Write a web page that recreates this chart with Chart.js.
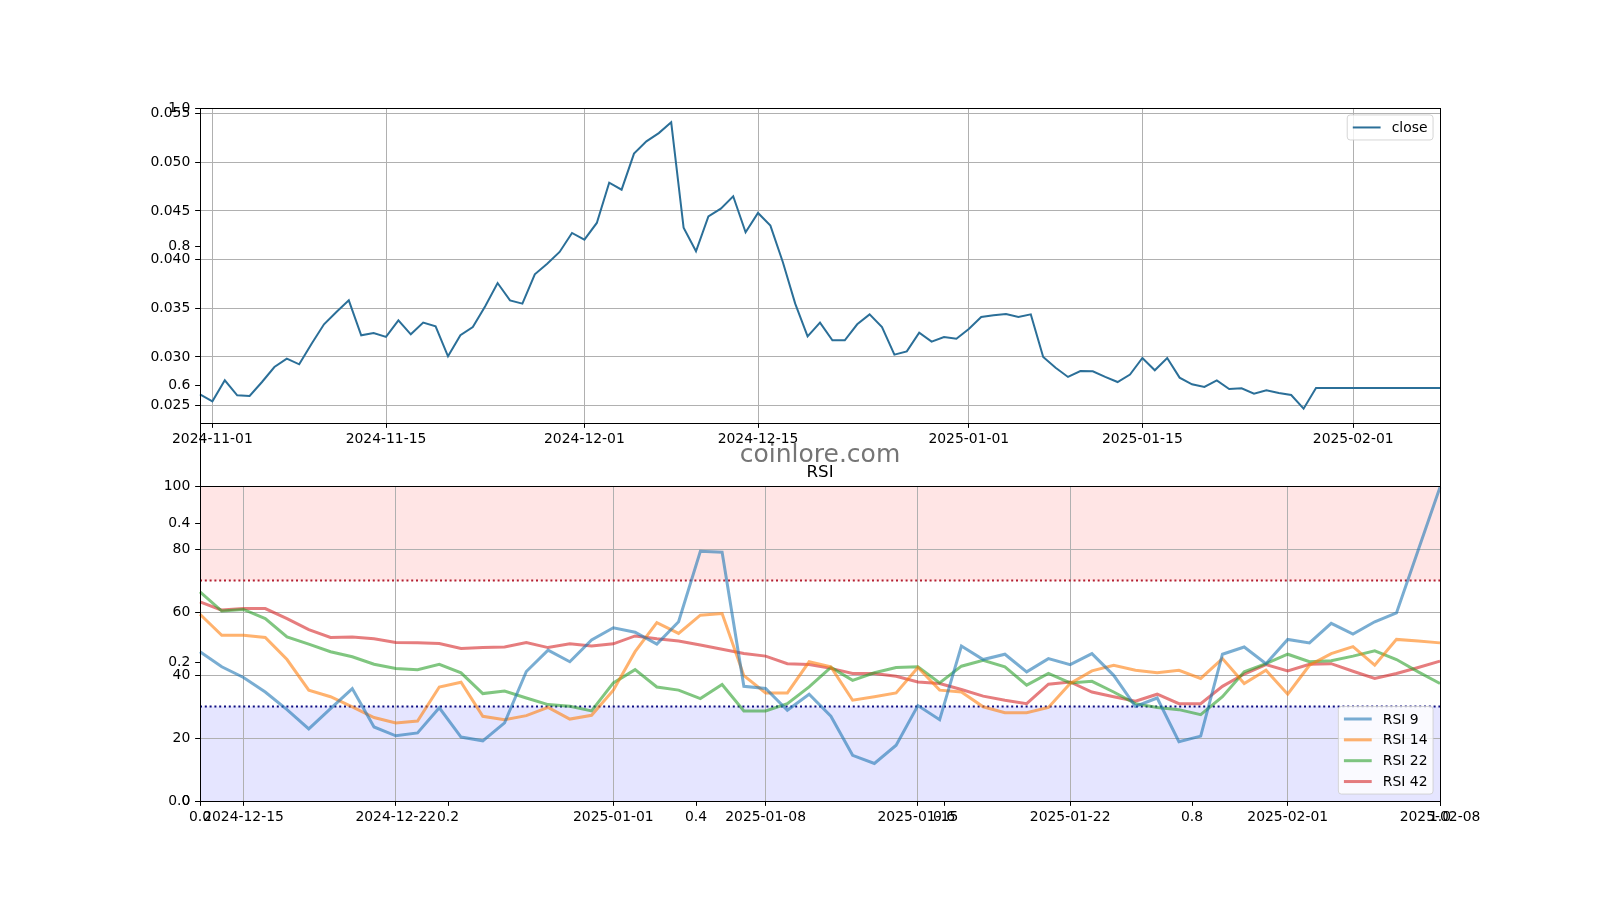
<!DOCTYPE html>
<html>
<head>
<meta charset="utf-8">
<script src="https://cdn.jsdelivr.net/npm/chart.js@4.4.1/dist/chart.umd.min.js"></script>
<style>
html,body{margin:0;padding:0;background:#fff;}
#wrap{position:relative;width:1600px;height:900px;overflow:hidden;background:#fff;}
#wrap canvas{position:absolute;left:0;top:0;}
</style>
</head>
<body>
<div id="wrap">
<canvas id="cOverlay" width="1600" height="900"></canvas>
<canvas id="cPrice" width="1600" height="900"></canvas>
<canvas id="cRsi" width="1600" height="900"></canvas>
</div>
<script>
// ---------------- DATA ----------------
const closeStart = '2024-10-31';
const closeValues = [
  0.02616, 0.02545, 0.02760, 0.02606, 0.02600, 0.02743, 0.02897, 0.02983, 0.02925, 0.03137,
  0.03336, 0.03462, 0.03582, 0.03223, 0.03247, 0.03206, 0.03377, 0.03233, 0.03353, 0.03315,
  0.03007, 0.03223, 0.03308, 0.03521, 0.03760, 0.03582, 0.03548, 0.03849, 0.03959, 0.04079,
  0.04274, 0.04206, 0.04377, 0.04791, 0.04719, 0.05089, 0.05216, 0.05300, 0.05411, 0.04329,
  0.04086, 0.04445, 0.04524, 0.04651, 0.04281, 0.04480, 0.04350, 0.03976, 0.03548, 0.03212,
  0.03353, 0.03171, 0.03171, 0.03336, 0.03438, 0.03308, 0.03024, 0.03058, 0.03250, 0.03158,
  0.03206, 0.03188, 0.03288, 0.03411, 0.03428, 0.03442, 0.03411, 0.03438, 0.03000, 0.02890,
  0.02795, 0.02856, 0.02853, 0.02795, 0.02743, 0.02819, 0.02990, 0.02863, 0.02990, 0.02788,
  0.02719, 0.02692, 0.02760, 0.02671, 0.02678, 0.02623, 0.02658, 0.02630, 0.02610, 0.02469,
  0.02682, 0.02682, 0.02682, 0.02682, 0.02682, 0.02682, 0.02682, 0.02682, 0.02682, 0.02682,
  0.02682
];
const closeTickLabels = ['2024-11-01','2024-11-15','2024-12-01','2024-12-15','2025-01-01','2025-01-15','2025-02-01'];
const priceTicks = [0.025, 0.030, 0.035, 0.040, 0.045, 0.050, 0.055];

const rsiStart = '2024-12-13';
const rsi9 = [
  47.4, 42.6, 39.2, 34.6, 29.0, 22.9, 29.3, 35.7, 23.5, 20.7,
  21.6, 29.6, 20.3, 19.1, 24.8, 41.1, 47.9, 44.2, 51.1, 55.0,
  53.6, 49.8, 56.9, 79.3, 79.0, 36.4, 35.7, 28.8, 33.9, 26.9,
  14.5, 11.9, 17.7, 30.3, 25.8, 49.2, 44.9, 46.6, 41.0, 45.2,
  43.3, 46.8, 39.9, 30.0, 32.7, 18.8, 20.6, 46.6, 48.9, 43.6,
  51.3, 50.2, 56.4, 53.0, 56.9, 59.7, 79.7, 99.6
];
const rsi14 = [
  59.3, 52.6, 52.6, 51.9, 44.9, 35.2, 33.1, 29.9, 26.5, 24.8,
  25.4, 36.2, 37.7, 26.9, 25.8, 27.1, 29.7, 26.0, 27.2, 35.2,
  47.4, 56.6, 53.2, 59.0, 59.5, 39.8, 34.3, 34.3, 44.2, 42.6,
  32.0, 33.1, 34.3, 42.4, 35.2, 34.6, 29.9, 28.0, 28.0, 29.7,
  37.3, 41.3, 43.1, 41.5, 40.7, 41.5, 38.9, 45.2, 37.3, 41.5,
  33.9, 43.1, 46.8, 49.0, 43.1, 51.3, 50.8, 50.2
];
const rsi22 = [
  66.4, 60.3, 60.8, 57.9, 52.1, 49.8, 47.4, 45.8, 43.4, 42.1,
  41.7, 43.4, 40.7, 34.1, 34.9, 32.7, 30.6, 30.1, 28.6, 37.5,
  41.7, 36.2, 35.2, 32.5, 37.0, 28.6, 28.6, 30.9, 36.2, 42.4,
  38.3, 40.7, 42.4, 42.6, 37.5, 42.8, 44.7, 42.6, 36.8, 40.5,
  37.5, 38.0, 34.6, 30.9, 29.7, 29.0, 27.4, 33.1, 41.0, 43.6,
  46.6, 44.2, 44.5, 46.0, 47.7, 44.9, 41.0, 37.3
];
const rsi42 = [
  63.2, 60.6, 61.1, 61.1, 57.9, 54.4, 51.9, 52.1, 51.5, 50.3,
  50.2, 50.0, 48.4, 48.7, 48.9, 50.3, 48.7, 49.9, 49.2, 49.9,
  52.4, 51.5, 50.8, 49.5, 48.2, 46.8, 46.0, 43.6, 43.3, 42.1,
  40.5, 40.5, 39.6, 37.8, 37.3, 35.4, 33.3, 32.0, 30.9, 37.1,
  37.8, 34.6, 33.1, 31.7, 33.9, 30.9, 30.9, 36.4, 40.3, 43.3,
  41.3, 43.4, 43.6, 41.2, 38.9, 40.5, 42.4, 44.4
];
const rsiTickLabels = ['2024-12-15','2024-12-22','2025-01-01','2025-01-08','2025-01-15','2025-01-22','2025-02-01','2025-02-08'];
const rsiTicks = [0, 20, 40, 60, 80, 100];
const overbought = 70;
const oversold = 30;

const overlayTicks = [0.0, 0.2, 0.4, 0.6, 0.8, 1.0];
const watermarkText = 'coinlore.com';
const rsiTitle = 'RSI';

// ---------------- LAYOUT / STYLE ----------------
const FIG_W = 1600, FIG_H = 900;
const AX_LEFT = 200, AX_RIGHT = 1440;
const PRICE_TOP = 108, PRICE_BOTTOM = 423;
const RSI_TOP = 486, RSI_BOTTOM = 801;
const FS = 13.9;           // 10pt @100dpi
const TL = 4.86;           // tick length 3.5pt
const XAXIS_H = 30;
const FONT = 'DejaVu Sans';

Chart.defaults.font.family = FONT;
Chart.defaults.font.size = FS;
Chart.defaults.font.lineHeight = 1;
Chart.defaults.color = '#000';

function dayLabels(start, n) {
  const t0 = Date.parse(start + 'T00:00:00Z');
  return Array.from({length: n}, (_, i) => new Date(t0 + i * 86400000).toISOString().slice(0, 10));
}

function gridOpts(onArea) {
  return {display: true, drawOnChartArea: onArea, drawTicks: true,
          color: '#b0b0b0', lineWidth: 1, tickColor: '#000', tickWidth: 1, tickLength: TL};
}

function catX(tickLabels) {
  return {
    type: 'category', offset: false,
    afterBuildTicks: s => { const labs = s.getLabels(); s.ticks = tickLabels.map(l => ({value: labs.indexOf(l)})); },
    afterFit: s => { s.height = XAXIS_H; },
    grid: gridOpts(true), border: {display: false},
    ticks: {autoSkip: false, maxRotation: 0, minRotation: 0, padding: 4.7, color: '#000'}
  };
}

function linY(min, max, ticks, fmt, onArea) {
  return {
    type: 'linear', min, max,
    afterBuildTicks: s => { s.ticks = ticks.map(v => ({value: v})); },
    afterFit: s => { s.width = AX_LEFT; },
    grid: gridOpts(onArea), border: {display: false},
    ticks: {padding: TL, color: '#000', callback: fmt}
  };
}

function pad(top, bottom) {
  return {left: 0, right: FIG_W - AX_RIGHT, top: top, bottom: FIG_H - bottom - XAXIS_H};
}

const framePlugin = {
  id: 'frame',
  afterDraw(chart) {
    const {ctx, chartArea: a} = chart;
    const l = Math.round(a.left) + 0.5, t = Math.round(a.top) + 0.5;
    const r = Math.round(a.right) + 0.5, b = Math.round(a.bottom) + 0.5;
    ctx.save();
    ctx.strokeStyle = '#000';
    ctx.lineWidth = 1;
    ctx.strokeRect(l, t, r - l, b - t);
    ctx.restore();
  }
};

const boxLegend = {
  id: 'boxLegend',
  afterDraw(chart, args, opts) {
    if (!opts || !opts.corner) return;
    const {ctx, chartArea: a} = chart;
    const items = chart.data.datasets.filter(d => d.label);
    ctx.save();
    ctx.font = `${FS}px "${FONT}"`;
    const bp = 0.4 * FS, hl = 2 * FS, htp = 0.8 * FS, ls = 0.5 * FS, rowH = FS;
    const tw = Math.max(...items.map(d => ctx.measureText(d.label).width));
    const w = bp * 2 + hl + htp + tw;
    const h = bp * 2 + items.length * rowH + (items.length - 1) * ls;
    const x0 = a.right - 0.5 * FS - w;
    const y0 = opts.corner === 'upper right' ? a.top + 0.5 * FS : a.bottom - 0.5 * FS - h;
    ctx.beginPath();
    if (ctx.roundRect) ctx.roundRect(x0, y0, w, h, 3); else ctx.rect(x0, y0, w, h);
    ctx.fillStyle = 'rgba(255,255,255,0.8)';
    ctx.fill();
    ctx.strokeStyle = 'rgba(204,204,204,0.8)';
    ctx.lineWidth = 1;
    ctx.stroke();
    items.forEach((d, i) => {
      const cy = y0 + bp + rowH / 2 + i * (rowH + ls);
      ctx.beginPath();
      ctx.moveTo(x0 + bp, cy);
      ctx.lineTo(x0 + bp + hl, cy);
      ctx.strokeStyle = d.borderColor;
      ctx.lineWidth = d.borderWidth;
      ctx.lineCap = 'butt';
      ctx.stroke();
      ctx.fillStyle = '#000';
      ctx.textAlign = 'left';
      ctx.textBaseline = 'middle';
      ctx.fillText(d.label, x0 + bp + hl + htp, cy + 1);
    });
    ctx.restore();
  }
};

const watermarkPlugin = {
  id: 'watermark',
  afterDraw(chart) {
    const {ctx, chartArea: a} = chart;
    ctx.save();
    ctx.font = `25px "${FONT}"`;
    ctx.fillStyle = 'rgba(110,110,110,0.95)';
    ctx.textAlign = 'center';
    ctx.textBaseline = 'alphabetic';
    ctx.fillText(watermarkText, (a.left + a.right) / 2, (a.top + a.bottom) / 2 + 7);
    ctx.restore();
  }
};

const rsiDecor = {
  id: 'rsiDecor',
  beforeDraw(chart) {
    const {ctx, chartArea: a, scales: {y}} = chart;
    const yTop = y.getPixelForValue(y.max), yOb = y.getPixelForValue(overbought);
    const yOs = y.getPixelForValue(oversold), yBot = y.getPixelForValue(y.min);
    ctx.save();
    ctx.fillStyle = 'rgba(255,0,0,0.1)';
    ctx.fillRect(a.left, yTop, a.right - a.left, yOb - yTop);
    ctx.fillStyle = 'rgba(0,0,255,0.1)';
    ctx.fillRect(a.left, yOs, a.right - a.left, yBot - yOs);
    ctx.restore();
  },
  beforeDatasetsDraw(chart) {
    const {ctx, chartArea: a, scales: {y}} = chart;
    ctx.save();
    ctx.lineWidth = 2;
    ctx.setLineDash([2, 2.8]);
    [[overbought, '#b41e30'], [oversold, '#0c0c80']].forEach(([v, c]) => {
      const py = y.getPixelForValue(v);
      ctx.beginPath();
      ctx.moveTo(a.left, py);
      ctx.lineTo(a.right, py);
      ctx.strokeStyle = c;
      ctx.stroke();
    });
    ctx.restore();
  },
  afterDraw(chart) {
    const {ctx, chartArea: a} = chart;
    ctx.save();
    ctx.font = `16.7px "${FONT}"`;
    ctx.fillStyle = '#000';
    ctx.textAlign = 'center';
    ctx.textBaseline = 'alphabetic';
    ctx.fillText(rsiTitle, (a.left + a.right) / 2, a.top - 9);
    ctx.restore();
  }
};

const baseOpts = {
  responsive: false, animation: false, devicePixelRatio: 1, events: [],
  plugins: {legend: {display: false}, tooltip: {enabled: false}, title: {display: false}}
};

// ---------------- OVERLAY (empty 0..1 axes) ----------------
new Chart(document.getElementById('cOverlay'), {
  type: 'scatter',
  data: {datasets: [{data: []}]},
  options: Object.assign({}, baseOpts, {
    layout: {padding: pad(PRICE_TOP, RSI_BOTTOM)},
    scales: {
      x: {type: 'linear', min: 0, max: 1,
          afterBuildTicks: s => { s.ticks = overlayTicks.map(v => ({value: v})); },
          afterFit: s => { s.height = XAXIS_H; },
          grid: gridOpts(false), border: {display: false},
          ticks: {padding: 4.7, maxRotation: 0, autoSkip: false, callback: v => Number(v).toFixed(1)}},
      y: linY(0, 1, overlayTicks, v => Number(v).toFixed(1), false)
    }
  }),
  plugins: [watermarkPlugin, framePlugin]
});

// ---------------- PRICE ----------------
const pMin = Math.min(...closeValues), pMax = Math.max(...closeValues);
const pMargin = (pMax - pMin) * 0.05;
new Chart(document.getElementById('cPrice'), {
  type: 'line',
  data: {
    labels: dayLabels(closeStart, closeValues.length),
    datasets: [{label: 'close', data: closeValues, borderColor: '#2b6f98', borderWidth: 2,
                pointRadius: 0, tension: 0, fill: false}]
  },
  options: Object.assign({}, baseOpts, {
    layout: {padding: pad(PRICE_TOP, PRICE_BOTTOM)},
    plugins: Object.assign({}, baseOpts.plugins, {boxLegend: {corner: 'upper right'}}),
    scales: {
      x: catX(closeTickLabels),
      y: linY(pMin - pMargin, pMax + pMargin, priceTicks, v => Number(v).toFixed(3), true)
    }
  }),
  plugins: [framePlugin, boxLegend]
});

// ---------------- RSI ----------------
const rsiColors = ['rgba(31,119,180,0.6)', 'rgba(255,127,14,0.6)', 'rgba(44,160,44,0.6)', 'rgba(214,39,40,0.6)'];
new Chart(document.getElementById('cRsi'), {
  type: 'line',
  data: {
    labels: dayLabels(rsiStart, rsi9.length),
    datasets: [
      {label: 'RSI 9', data: rsi9},
      {label: 'RSI 14', data: rsi14},
      {label: 'RSI 22', data: rsi22},
      {label: 'RSI 42', data: rsi42}
    ].map((d, i) => Object.assign(d, {borderColor: rsiColors[i], borderWidth: 3, pointRadius: 0, tension: 0, fill: false}))
  },
  options: Object.assign({}, baseOpts, {
    layout: {padding: pad(RSI_TOP, RSI_BOTTOM)},
    plugins: Object.assign({}, baseOpts.plugins, {boxLegend: {corner: 'lower right'}}),
    scales: {
      x: catX(rsiTickLabels),
      y: linY(0, 100, rsiTicks, v => String(v), true)
    }
  }),
  plugins: [rsiDecor, framePlugin, boxLegend]
});
</script>
</body>
</html>
